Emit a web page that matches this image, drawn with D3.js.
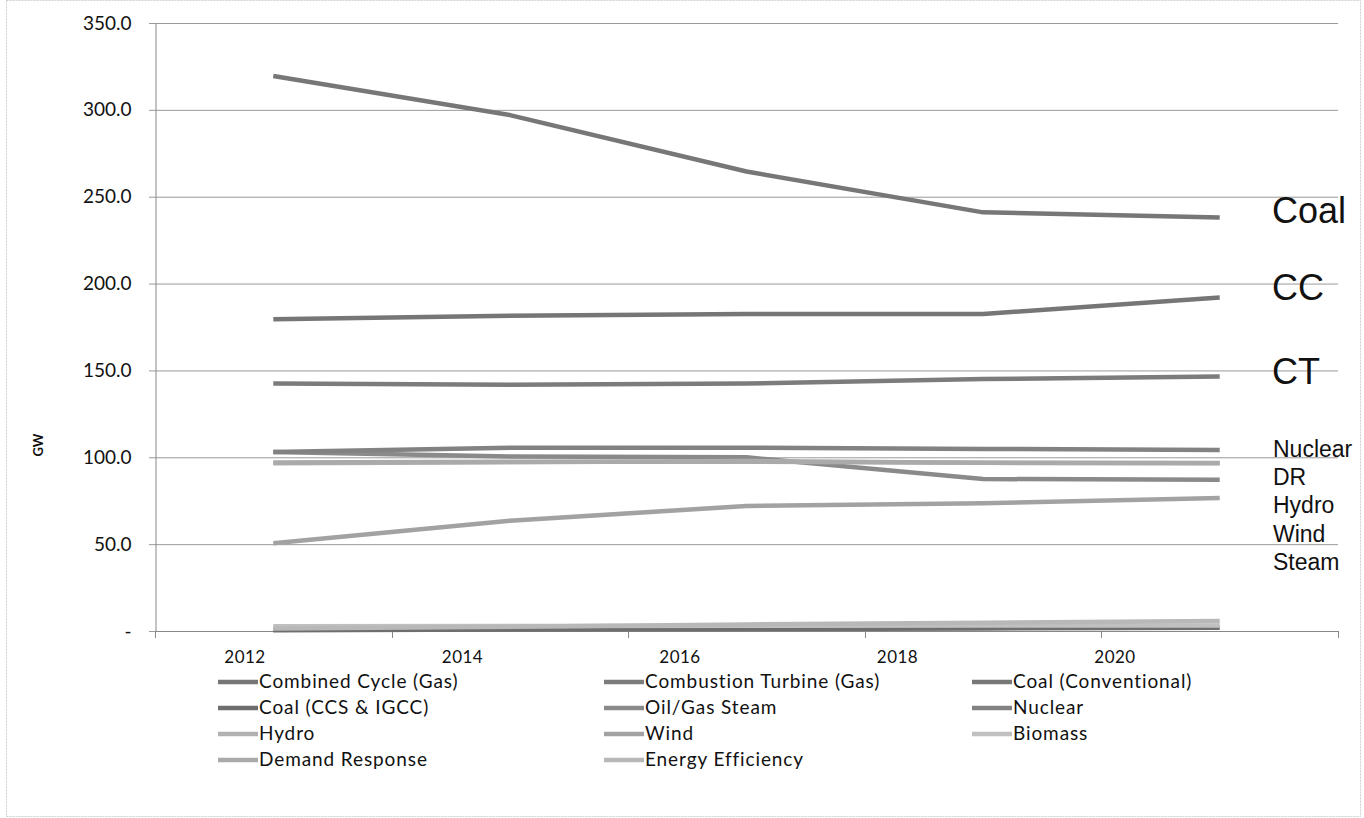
<!DOCTYPE html>
<html><head><meta charset="utf-8">
<script src="https://cdn.jsdelivr.net/npm/d3@7"></script>
<style>
body{margin:0;background:#fff;}
svg{display:block;}
text{font-family:"Lato","Open Sans",sans-serif;fill:#111;}
</style></head>
<body>
<svg id="c" width="1364" height="818"></svg>
<script>
const years = ["2012","2014","2016","2018","2020"];
const yTicks = [0,50,100,150,200,250,300,350];
const seriesNames = ["Combined Cycle (Gas)","Combustion Turbine (Gas)","Coal (Conventional)","Coal (CCS & IGCC)","Oil/Gas Steam","Nuclear","Hydro","Wind","Biomass","Demand Response","Energy Efficiency"];
const seriesColors = ["#767676","#7c7c7c","#777777","#6e6e6e","#8a8a8a","#828282","#b2b2b2","#a2a2a2","#c0c0c0","#aaaaaa","#b8b8b8"];
const combinedCycle = [179.5,181.5,182.5,182.5,192];
const combustionTurbine = [142.5,141.8,142.5,145,146.5];
const coalConventional = [319.5,297,264.5,241,238];
const coalCCS = [0.5,0.8,1.2,1.5,1.8];
const oilGasSteam = [103,100.5,100,87.5,87];
const nuclear = [103,105.5,105.5,104.8,104.2];
const hydro = [96.5,97.2,97.8,96.8,96.6];
const wind = [50.5,63.5,72,73.5,76.5];
const biomass = [2.8,2.9,3.0,3.1,3.2];
const demandResponse = [97,97.5,97.5,96.8,96.7];
const energyEfficiency = [1.5,2.5,3.8,4.8,5.8];
const seriesValues = [combinedCycle,combustionTurbine,coalConventional,coalCCS,oilGasSteam,nuclear,hydro,wind,biomass,demandResponse,energyEfficiency];

const svg = d3.select("#c");
// outer frame
svg.append("rect").attr("x",6.5).attr("y",0.5).attr("width",1354).attr("height",816)
  .attr("fill","none").attr("stroke","#d0d0d0").attr("stroke-dasharray","2,1");

const L=155, R=1338, T=23, B=631;
const x = d3.scaleBand().domain(years).range([L,R]).paddingInner(0).paddingOuter(0);
const xLab = d3.scalePoint().domain(years).range([245,1115]);
const y = d3.scaleLinear().domain([0,350]).range([B,T]);

// gridlines
svg.append("g").selectAll("line").data(yTicks).join("line")
  .attr("x1",149).attr("x2",R).attr("y1",d=>y(d)+0.5).attr("y2",d=>y(d)+0.5)
  .attr("stroke","#9a9a9a").attr("stroke-width",1);

// y axis
const yAxis = d3.axisLeft(y).tickValues(yTicks).tickSize(0).tickPadding(24)
  .tickFormat(d=> d===0 ? "-" : d3.format(".1f")(d));
const gy = svg.append("g").attr("transform",`translate(${L+0.5},0)`).call(yAxis);
gy.select(".domain").attr("stroke","#888");
gy.selectAll("text").style("font-size","19px").style("font-family","Lato, sans-serif").attr("fill","#111");

// x axis
const gx = svg.append("g");
gx.append("line").attr("x1",L).attr("x2",R).attr("y1",B+0.5).attr("y2",B+0.5).attr("stroke","#888");
const bounds = years.map(d=>x(d)).concat([R]);
gx.selectAll("line.t").data(bounds).join("line").attr("class","t")
  .attr("x1",d=>Math.round(d)+0.5).attr("x2",d=>Math.round(d)+0.5).attr("y1",B).attr("y2",B+7).attr("stroke","#888");
gx.selectAll("text").data(years).join("text")
  .attr("x",d=>xLab(d)).attr("y",663).attr("text-anchor","middle")
  .style("font-size","17px").style("letter-spacing","0.5px").text(d=>d);

// y label
svg.append("text").attr("transform","translate(43,445) rotate(-90)").attr("text-anchor","middle")
  .style("font-size","13px").style("font-weight","bold").text("GW");

// lines
const line = d3.line().x((d,i)=>x(years[i])+x.bandwidth()/2).y(d=>y(d));
svg.append("g").selectAll("path").data(seriesValues).join("path")
  .attr("d",d=>line(d)).attr("fill","none")
  .attr("stroke",(d,i)=>seriesColors[i]).attr("stroke-width",4.5).attr("stroke-linejoin","round");

// right annotations
const big = [["Coal",223],["CC",300],["CT",384]];
svg.append("g").selectAll("text").data(big).join("text")
  .attr("x",1272).attr("y",d=>d[1]).style("font-family","'Liberation Sans',Arial,sans-serif")
  .style("font-size","36px").text(d=>d[0]);
const small = [["Nuclear",457],["DR",485],["Hydro",513],["Wind",542],["Steam",570]];
svg.append("g").selectAll("text").data(small).join("text")
  .attr("x",1273).attr("y",d=>d[1]).style("font-family","'Liberation Sans',Arial,sans-serif")
  .style("font-size","23px").text(d=>d[0]);

// legend
const colX = [218,604,972];
const rowY = [682,708,734,760];
const lg = svg.append("g");
seriesNames.forEach((n,i)=>{
  const cx = colX[i%3], cy = rowY[Math.floor(i/3)];
  lg.append("line").attr("x1",cx).attr("x2",cx+40).attr("y1",cy).attr("y2",cy)
    .attr("stroke",seriesColors[i]).attr("stroke-width",4.5);
  lg.append("text").attr("x",cx+41).attr("y",cy+6).style("font-size","19px")
    .style("letter-spacing","0.9px").text(n);
});
</script>
</body></html>
